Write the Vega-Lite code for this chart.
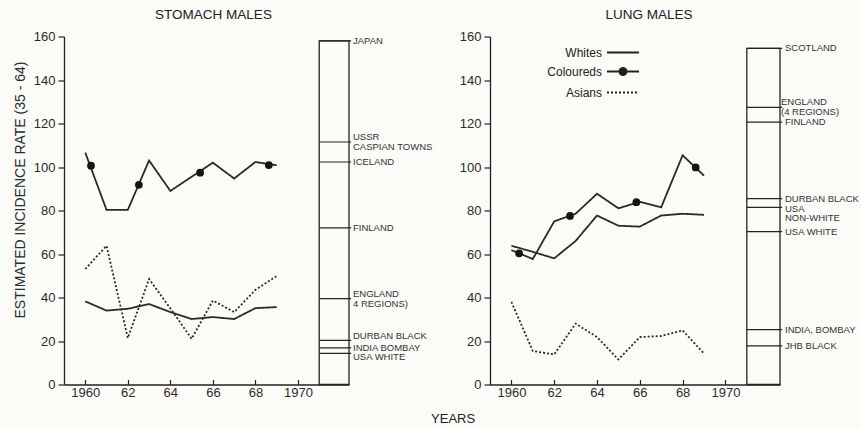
{
  "$schema": "https://vega.github.io/schema/vega-lite/v6.json",
  "background": "#fbfbf8",
  "padding": {"left": 13, "top": 7.5, "right": 5, "bottom": 5},
  "bounds": "flush",
  "spacing": 141,
  "config": {
    "view": {"stroke": null},
    "font": "Liberation Sans",
    "axis": {
      "grid": false,
      "domainColor": "#222",
      "domainWidth": 1.3,
      "tickColor": "#222",
      "tickWidth": 1.2,
      "labelColor": "#2b2b2b",
      "labelFont": "Liberation Sans",
      "labelFontSize": 13,
      "titleFont": "Liberation Sans",
      "titleFontWeight": "normal",
      "titleColor": "#2b2b2b"
    },
    "title": {"font": "Liberation Sans", "fontSize": 13.5, "fontWeight": "normal", "color": "#222"}
  },
  "title": {"text": "YEARS", "orient": "bottom", "anchor": "middle", "fontSize": 13, "offset": 13, "dx": 17},
  "datasets": {
    "stomach": [
      {"year": 1960, "series": "Whites", "rate": 38.2},
      {"year": 1961, "series": "Whites", "rate": 34.0},
      {"year": 1962, "series": "Whites", "rate": 34.8},
      {"year": 1963, "series": "Whites", "rate": 37.0},
      {"year": 1964, "series": "Whites", "rate": 33.3},
      {"year": 1965, "series": "Whites", "rate": 30.1},
      {"year": 1966, "series": "Whites", "rate": 31.0},
      {"year": 1967, "series": "Whites", "rate": 30.1},
      {"year": 1968, "series": "Whites", "rate": 35.1},
      {"year": 1969, "series": "Whites", "rate": 35.6},
      {"year": 1960, "series": "Coloureds", "rate": 106.6},
      {"year": 1961, "series": "Coloureds", "rate": 80.3},
      {"year": 1962, "series": "Coloureds", "rate": 80.3},
      {"year": 1963, "series": "Coloureds", "rate": 103.0},
      {"year": 1964, "series": "Coloureds", "rate": 89.0},
      {"year": 1965, "series": "Coloureds", "rate": 95.5},
      {"year": 1966, "series": "Coloureds", "rate": 102.0},
      {"year": 1967, "series": "Coloureds", "rate": 94.7},
      {"year": 1968, "series": "Coloureds", "rate": 102.3},
      {"year": 1969, "series": "Coloureds", "rate": 100.8},
      {"year": 1960, "series": "Asians", "rate": 53.1},
      {"year": 1961, "series": "Asians", "rate": 63.8},
      {"year": 1962, "series": "Asians", "rate": 21.4},
      {"year": 1963, "series": "Asians", "rate": 48.5},
      {"year": 1964, "series": "Asians", "rate": 35.0},
      {"year": 1965, "series": "Asians", "rate": 21.0},
      {"year": 1966, "series": "Asians", "rate": 38.6},
      {"year": 1967, "series": "Asians", "rate": 33.3},
      {"year": 1968, "series": "Asians", "rate": 43.5},
      {"year": 1969, "series": "Asians", "rate": 49.9}
    ],
    "stomachDots": [
      {"year": 1960.27, "rate": 100.6},
      {"year": 1962.52, "rate": 91.8},
      {"year": 1965.4, "rate": 97.4},
      {"year": 1968.63, "rate": 100.9}
    ],
    "stomachRefs": [
      {"place": "JAPAN", "rate": 158.0},
      {"place": "USSR\nCASPIAN TOWNS", "rate": 111.5},
      {"place": "ICELAND", "rate": 102.3},
      {"place": "FINLAND", "rate": 72.0},
      {"place": "ENGLAND\n4 REGIONS)", "rate": 39.5},
      {"place": "DURBAN BLACK", "rate": 20.3},
      {"place": "INDIA  BOMBAY", "rate": 16.8},
      {"place": "USA WHITE", "rate": 14.3}
    ],
    "lung": [
      {"year": 1960, "series": "Whites", "rate": 63.8},
      {"year": 1961, "series": "Whites", "rate": 61.0},
      {"year": 1962, "series": "Whites", "rate": 58.0},
      {"year": 1963, "series": "Whites", "rate": 66.0},
      {"year": 1964, "series": "Whites", "rate": 77.7},
      {"year": 1965, "series": "Whites", "rate": 73.0},
      {"year": 1966, "series": "Whites", "rate": 72.6},
      {"year": 1967, "series": "Whites", "rate": 77.7},
      {"year": 1968, "series": "Whites", "rate": 78.5},
      {"year": 1969, "series": "Whites", "rate": 78.0},
      {"year": 1960, "series": "Coloureds", "rate": 61.8},
      {"year": 1961, "series": "Coloureds", "rate": 57.7},
      {"year": 1962, "series": "Coloureds", "rate": 75.0},
      {"year": 1963, "series": "Coloureds", "rate": 78.5},
      {"year": 1964, "series": "Coloureds", "rate": 87.7},
      {"year": 1965, "series": "Coloureds", "rate": 81.0},
      {"year": 1966, "series": "Coloureds", "rate": 84.0},
      {"year": 1967, "series": "Coloureds", "rate": 81.5},
      {"year": 1968, "series": "Coloureds", "rate": 105.4},
      {"year": 1969, "series": "Coloureds", "rate": 96.0},
      {"year": 1960, "series": "Asians", "rate": 38.0},
      {"year": 1961, "series": "Asians", "rate": 15.4},
      {"year": 1962, "series": "Asians", "rate": 13.8},
      {"year": 1963, "series": "Asians", "rate": 28.0},
      {"year": 1964, "series": "Asians", "rate": 21.8},
      {"year": 1965, "series": "Asians", "rate": 11.5},
      {"year": 1966, "series": "Asians", "rate": 21.8},
      {"year": 1967, "series": "Asians", "rate": 22.3},
      {"year": 1968, "series": "Asians", "rate": 24.9},
      {"year": 1969, "series": "Asians", "rate": 14.2}
    ],
    "lungDots": [
      {"year": 1960.36, "rate": 60.3},
      {"year": 1962.74, "rate": 77.5},
      {"year": 1965.84, "rate": 83.8},
      {"year": 1968.61, "rate": 99.8}
    ],
    "lungRefs": [
      {"place": "SCOTLAND", "rate": 154.5},
      {"place": "ENGLAND\n(4 REGIONS)", "rate": 127.4},
      {"place": "FINLAND", "rate": 120.6},
      {"place": "DURBAN BLACK", "rate": 85.5},
      {"place": "USA\nNON-WHITE", "rate": 81.4},
      {"place": "USA WHITE", "rate": 70.3},
      {"place": "INDIA, BOMBAY", "rate": 25.2},
      {"place": "JHB BLACK", "rate": 17.8}
    ]
  },
  "resolve": {
    "scale": {"x": "independent", "y": "independent", "strokeDash": "independent", "strokeWidth": "independent"},
    "legend": {"strokeDash": "independent"}
  },
  "hconcat": [
    {
      "width": 285,
      "height": 348,
      "title": {"text": "STOMACH MALES", "frame": "group", "offset": 9, "dx": 7},
      "layer": [
        {
          "data": {"name": "stomach"},
          "mark": {"type": "line", "color": "#2a2a2a"},
          "encoding": {
            "x": {"field": "year", "type": "quantitative", "title": null,
                  "scale": {"domain": [1959, 1972.4], "nice": false, "zero": false},
                  "axis": {"values": [1960, 1962, 1964, 1966, 1968, 1970], "tickSize": -5, "labelPadding": 7,
                           "labelExpr": "datum.value % 10 == 0 ? '' + datum.value : substring('' + datum.value, 2)"}},
            "y": {"field": "rate", "type": "quantitative", "title": "ESTIMATED INCIDENCE RATE (35 - 64)",
                  "scale": {"domain": [0, 160], "nice": false},
                  "axis": {"values": [0, 20, 40, 60, 80, 100, 120, 140, 160], "tickSize": 6, "labelPadding": 3,
                           "titleFontSize": 14, "titlePadding": 6, "titleY": 153}},
            "detail": {"field": "series"},
            "strokeDash": {"field": "series", "legend": null,
                           "scale": {"domain": ["Whites", "Coloureds", "Asians"], "range": [[1, 0], [1, 0], [2, 2]]}},
            "strokeWidth": {"field": "series", "legend": null,
                            "scale": {"domain": ["Whites", "Coloureds", "Asians"], "range": [1.8, 1.8, 1.2]}}
          }
        },
        {
          "data": {"name": "stomachDots"},
          "mark": {"type": "point", "filled": true, "color": "#151515", "opacity": 1, "size": 60},
          "encoding": {
            "x": {"field": "year", "type": "quantitative"},
            "y": {"field": "rate", "type": "quantitative"}
          }
        },
        {
          "data": {"name": "stomachRefs"},
          "transform": [{"aggregate": [{"op": "max", "field": "rate", "as": "top"}]}],
          "mark": {"type": "rect", "fill": null, "stroke": "#222", "strokeWidth": 1.3},
          "encoding": {
            "x": {"datum": 1971, "type": "quantitative"},
            "x2": {"datum": 1972.4},
            "y": {"field": "top", "type": "quantitative"},
            "y2": {"datum": 0}
          }
        },
        {
          "data": {"name": "stomachRefs"},
          "mark": {"type": "rule", "color": "#222", "strokeWidth": 1.2},
          "encoding": {
            "x": {"datum": 1971, "type": "quantitative"},
            "x2": {"datum": 1972.5},
            "y": {"field": "rate", "type": "quantitative"}
          }
        },
        {
          "data": {"name": "stomachRefs"},
          "transform": [{"filter": {"field": "place", "oneOf": ["JAPAN", "ICELAND", "FINLAND", "INDIA  BOMBAY"]}}],
          "mark": {"type": "text", "align": "left", "baseline": "middle", "dx": 4, "fontSize": 9.5,
                   "lineBreak": "\n", "lineHeight": 10, "color": "#333"},
          "encoding": {
            "x": {"datum": 1972.4, "type": "quantitative"},
            "y": {"field": "rate", "type": "quantitative"},
            "text": {"field": "place"}
          }
        },
        {
          "data": {"name": "stomachRefs"},
          "transform": [{"filter": {"field": "place", "oneOf": ["USSR\nCASPIAN TOWNS", "ENGLAND\n4 REGIONS)", "DURBAN BLACK"]}}],
          "mark": {"type": "text", "align": "left", "baseline": "middle", "dx": 4, "dy": -4.5, "fontSize": 9.5,
                   "lineBreak": "\n", "lineHeight": 10, "color": "#333"},
          "encoding": {
            "x": {"datum": 1972.4, "type": "quantitative"},
            "y": {"field": "rate", "type": "quantitative"},
            "text": {"field": "place"}
          }
        },
        {
          "data": {"name": "stomachRefs"},
          "transform": [{"filter": {"field": "place", "oneOf": ["USA WHITE"]}}],
          "mark": {"type": "text", "align": "left", "baseline": "middle", "dx": 4, "dy": 4, "fontSize": 9.5,
                   "lineBreak": "\n", "lineHeight": 10, "color": "#333"},
          "encoding": {
            "x": {"datum": 1972.4, "type": "quantitative"},
            "y": {"field": "rate", "type": "quantitative"},
            "text": {"field": "place"}
          }
        }
      ]
    },
    {
      "width": 290,
      "height": 348,
      "title": {"text": "LUNG MALES", "frame": "group", "offset": 9, "dx": 14},
      "layer": [
        {
          "data": {"name": "lung"},
          "mark": {"type": "line", "color": "#2a2a2a"},
          "encoding": {
            "x": {"field": "year", "type": "quantitative", "title": null,
                  "scale": {"domain": [1959, 1972.55], "nice": false, "zero": false},
                  "axis": {"values": [1960, 1962, 1964, 1966, 1968, 1970], "tickSize": -5, "labelPadding": 7,
                           "labelExpr": "datum.value % 10 == 0 ? '' + datum.value : substring('' + datum.value, 2)"}},
            "y": {"field": "rate", "type": "quantitative", "title": null,
                  "scale": {"domain": [0, 160], "nice": false},
                  "axis": {"values": [0, 20, 40, 60, 80, 100, 120, 140, 160], "tickSize": 6, "labelPadding": 3}},
            "detail": {"field": "series"},
            "strokeDash": {"field": "series",
                           "scale": {"domain": ["Whites", "Coloureds", "Asians"], "range": [[1, 0], [1, 0], [2, 2]]},
                           "legend": {"orient": "none", "legendX": 124, "legendY": 7, "padding": 0, "title": null, "direction": "vertical",
                                      "labelAlign": "right", "labelOffset": -30, "symbolSize": 256, "symbolType": "M-2,0H2",
                                      "symbolStrokeWidth": 1.6, "symbolStrokeColor": "#222", "rowPadding": 4,
                                      "labelFontSize": 12, "labelColor": "#222", "labelFont": "Liberation Sans",
                                      "encoding": {"symbols": {
                                        "stroke": {"value": "#222"},
                                        "strokeWidth": {"value": 1.6},
                                        "shape": {"condition": {"test": "datum.value === 'Coloureds'", "value": "M-2,0H2M-0.45,0A0.45,0.45,0,1,1,0.45,0A0.45,0.45,0,1,1,-0.45,0Z"}, "value": "M-2,0H2"},
                                        "fill": {"condition": {"test": "datum.value === 'Coloureds'", "value": "#151515"}, "value": "transparent"}
                                      }}}},
            "strokeWidth": {"field": "series", "legend": null,
                            "scale": {"domain": ["Whites", "Coloureds", "Asians"], "range": [1.8, 1.8, 1.2]}}
          }
        },
        {
          "data": {"name": "lungDots"},
          "mark": {"type": "point", "filled": true, "color": "#151515", "opacity": 1, "size": 60},
          "encoding": {
            "x": {"field": "year", "type": "quantitative"},
            "y": {"field": "rate", "type": "quantitative"}
          }
        },
        {
          "data": {"name": "lungRefs"},
          "transform": [{"aggregate": [{"op": "max", "field": "rate", "as": "top"}]}],
          "mark": {"type": "rect", "fill": null, "stroke": "#222", "strokeWidth": 1.3},
          "encoding": {
            "x": {"datum": 1971, "type": "quantitative"},
            "x2": {"datum": 1972.55},
            "y": {"field": "top", "type": "quantitative"},
            "y2": {"datum": 0}
          }
        },
        {
          "data": {"name": "lungRefs"},
          "mark": {"type": "rule", "color": "#222", "strokeWidth": 1.2},
          "encoding": {
            "x": {"datum": 1971, "type": "quantitative"},
            "x2": {"datum": 1972.65},
            "y": {"field": "rate", "type": "quantitative"}
          }
        },
        {
          "data": {"name": "lungRefs"},
          "transform": [{"filter": {"field": "place", "oneOf": ["SCOTLAND", "FINLAND", "DURBAN BLACK", "USA WHITE", "INDIA, BOMBAY", "JHB BLACK"]}}],
          "mark": {"type": "text", "align": "left", "baseline": "middle", "dx": 5, "fontSize": 9.5,
                   "lineBreak": "\n", "lineHeight": 9.5, "color": "#333"},
          "encoding": {
            "x": {"datum": 1972.55, "type": "quantitative"},
            "y": {"field": "rate", "type": "quantitative"},
            "text": {"field": "place"}
          }
        },
        {
          "data": {"name": "lungRefs"},
          "transform": [{"filter": {"field": "place", "oneOf": ["USA\nNON-WHITE"]}}],
          "mark": {"type": "text", "align": "left", "baseline": "middle", "dx": 5, "dy": 1.5, "fontSize": 9.5,
                   "lineBreak": "\n", "lineHeight": 9.5, "color": "#333"},
          "encoding": {
            "x": {"datum": 1972.55, "type": "quantitative"},
            "y": {"field": "rate", "type": "quantitative"},
            "text": {"field": "place"}
          }
        },
        {
          "data": {"name": "lungRefs"},
          "transform": [{"filter": {"field": "place", "oneOf": ["ENGLAND\n(4 REGIONS)"]}}],
          "mark": {"type": "text", "align": "left", "baseline": "middle", "dx": 1, "dy": -5, "fontSize": 9.5,
                   "lineBreak": "\n", "lineHeight": 9.5, "color": "#333"},
          "encoding": {
            "x": {"datum": 1972.55, "type": "quantitative"},
            "y": {"field": "rate", "type": "quantitative"},
            "text": {"field": "place"}
          }
        }
      ]
    }
  ]
}
